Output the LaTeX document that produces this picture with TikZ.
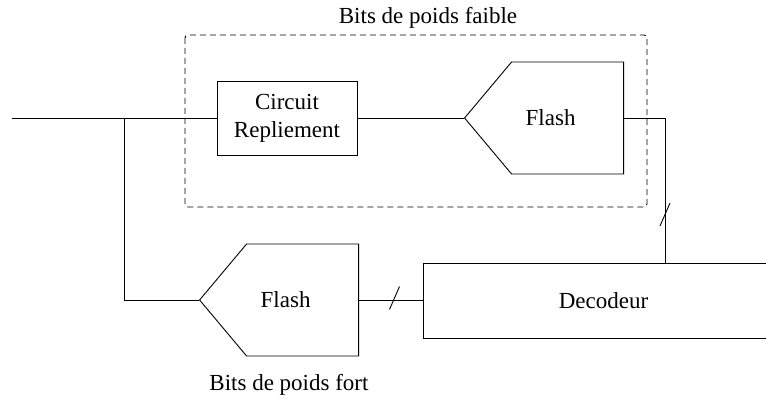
\documentclass[tikz,border=0pt]{standalone}
\usepackage{fontspec}
\setmainfont{Liberation Serif}
\usetikzlibrary{calc,shapes.symbols}
\def\busmark(#1){\draw ($(#1)+(-5,11.5)$) -- ++(10,-23);}

\begin{document}
\begin{tikzpicture}[x=1pt, y=-1pt, line width=0.9pt,
	every node/.style={font=\fontsize{23}{28}\selectfont},
	block/.style={draw, inner sep=0pt, align=center},
	flash/.style={draw, signal, signal to=west, signal from=nowhere, signal pointer angle=100, minimum width=159pt, minimum height=112pt, inner sep=0pt, label={[xshift=-17pt]center:#1}},
	group/.style={draw, dash pattern=on 6pt off 4pt, rounded corners=3pt}]
		%%%%% START %%%%%
		\useasboundingbox (0,0) rectangle (766,401);
		
		\coordinate (in) at (12,118);
		\coordinate (split) at (124,118);
		\coordinate (turn) at (665,118);
		
		\node[block, minimum width=140pt, minimum height=74pt] (repl) at (287,118) {Circuit\\Repliement};
		\node[flash=Flash, anchor=west] (lsb) at (464,118) {};
		\node[flash=Flash, anchor=west] (msb) at (199,300) {};
		\node[block, anchor=west, minimum width=360pt, minimum height=75pt] (dec) at (423,300.5) {Decodeur};
		
		\draw[group] (185,35) rectangle (647,207);
		\node (lsbtitle) at (428,18) {Bits de poids faible};
		\node (msbtitle) at (289,385) {Bits de poids fort};
		
		\draw (in) -- (repl.west);
		\draw (repl.east) -- (lsb.west);
		\draw (split) |- (msb.west);
		\draw (msb.east) -- (dec.west -| msb.east) -- (dec.west);
		\draw (lsb.east) -- (turn) -- (turn |- dec.north);
		
		\busmark(394.5,298)
		\busmark(665,214.5)
		%%%%% END %%%%%
	\end{tikzpicture}
\end{document}
